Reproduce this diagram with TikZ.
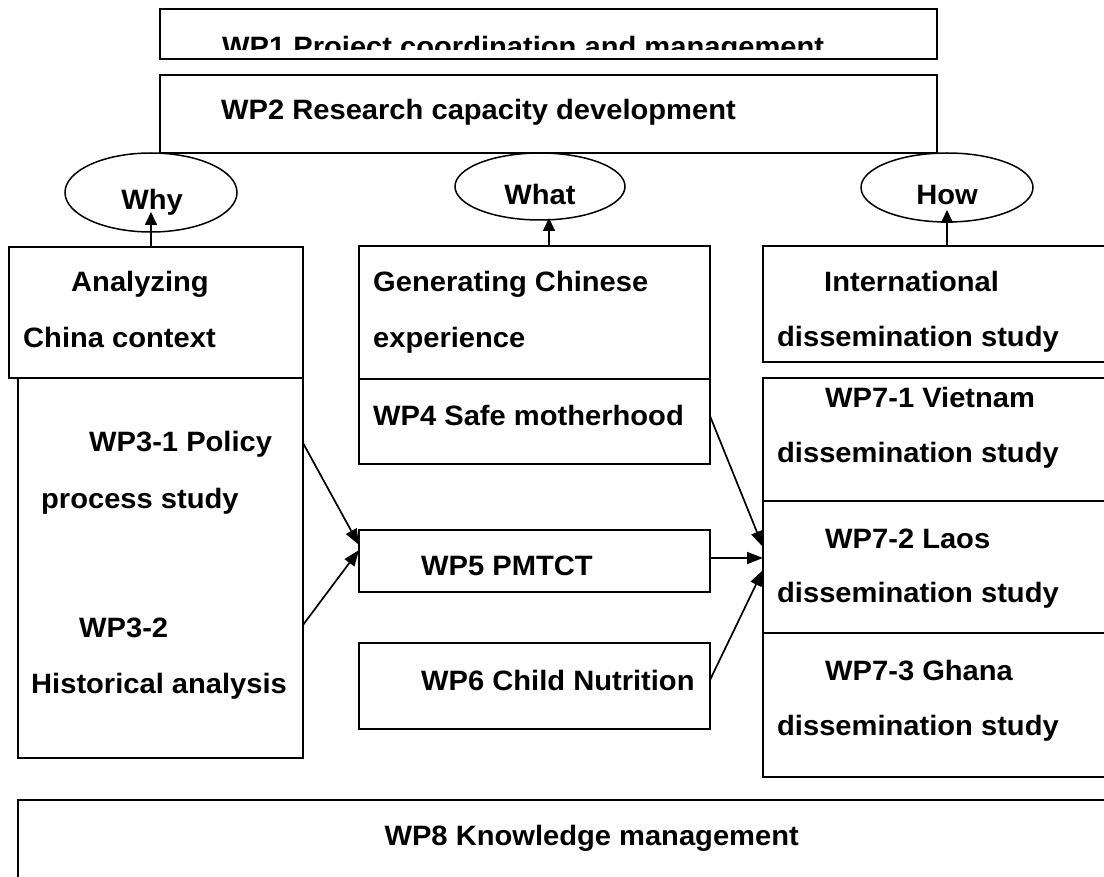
\documentclass[tikz,border=0pt]{standalone}
\usepackage{fontspec}
\newfontfamily\lab{Liberation Sans}[FakeStretch=1.04]
\usetikzlibrary{shapes.geometric,arrows.meta,calc}
\begin{document}
\begin{tikzpicture}[x=1pt,y=-1pt,
  box/.style={draw,line width=1.7pt,rectangle,anchor=north west,inner sep=0pt,outer sep=0pt},
  oval/.style={draw,line width=1.5pt,ellipse,inner sep=0pt,outer sep=0pt},
  txt/.style={anchor=base west,inner sep=0pt,font=\lab\bfseries\fontsize{28}{34}\selectfont},
  ctxt/.style={txt,anchor=base},
  arr/.style={line width=1.7pt,-{Triangle[length=16pt,width=12pt]}},
  uparr/.style={line width=1.7pt,-{Triangle[length=13pt,width=12pt]}}]
\clip (0,0) rectangle (1104,877);
\fill[white] (0,0) rectangle (1104,877);

% top boxes
\node[box,minimum width=777pt,minimum height=50pt] (wp1) at (160,9) {};
\begin{scope}
  \clip (wp1.north west) rectangle ([yshift=9pt]wp1.south east);
  \node[txt] (wp1t) at (222,57) {WP1 Project coordination and management};
\end{scope}
\node[box,minimum width=777pt,minimum height=78pt] (wp2) at (160,75) {};
\node[txt] (wp2t) at (221,120) {WP2 Research capacity development};

% ellipses
\node[oval,minimum width=172pt,minimum height=79pt] (why) at (151,192.5) {};
\node[ctxt] (whyt) at (152,210) {Why};
\node[oval,minimum width=170pt,minimum height=67pt] (what) at (540,186.5) {};
\node[ctxt] (whatt) at (540,205) {What};
\node[oval,minimum width=172pt,minimum height=69pt] (how) at (947,187.5) {};
\node[ctxt] (howt) at (947,205) {How};

% left column
\node[box,minimum width=294pt,minimum height=131pt] (an) at (9,247) {};
\node[txt] at (71,292) {Analyzing};
\node[txt] at (23,348) {China context};
\node[box,minimum width=285pt,minimum height=380pt] (wp3) at (18,378) {};
\node[txt] at (89,452) {WP3-1 Policy};
\node[txt] at (41,508) {process study};
\node[txt] at (79,637) {WP3-2};
\node[txt] at (31,693) {Historical analysis};

% middle column
\node[box,minimum width=351pt,minimum height=133pt] (gen) at (359,246) {};
\node[txt] at (373,292) {Generating Chinese};
\node[txt] at (373,348) {experience};
\node[box,minimum width=351pt,minimum height=85pt] (wp4) at (359,379) {};
\node[txt] at (373,425) {WP4 Safe motherhood};
\node[box,minimum width=351pt,minimum height=62pt] (wp5) at (359,530) {};
\node[txt] at (421,575) {WP5 PMTCT};
\node[box,minimum width=351pt,minimum height=86pt] (wp6) at (359,643) {};
\node[txt] at (421,690) {WP6 Child Nutrition};

% right column
\node[box,minimum width=400pt,minimum height=116pt] (intl) at (763,246) {};
\node[txt] at (824,292) {International};
\node[txt] at (777,347) {dissemination study};
\node[box,minimum width=400pt,minimum height=123pt] (wp71) at (763,378) {};
\node[txt] at (825,408) {WP7-1 Vietnam};
\node[txt] at (777,463) {dissemination study};
\node[box,minimum width=400pt,minimum height=132pt] (wp72) at (763,501) {};
\node[txt] at (825,548) {WP7-2 Laos};
\node[txt] at (777,602) {dissemination study};
\node[box,minimum width=400pt,minimum height=144pt] (wp73) at (763,633) {};
\node[txt] at (825,680) {WP7-3 Ghana};
\node[txt] at (777,735) {dissemination study};

% bottom
\node[box,minimum width=1200pt,minimum height=200pt] (wp8) at (18,800) {};
\node[txt,anchor=base east] (wp8t) at (799,845) {WP8 Knowledge management};

% arrows up
\draw[uparr] (an.north -| why.south) -- ([yshift=20pt]why.south);
\draw[uparr] ([xshift=9pt]what.south |- gen.north) -- ([xshift=9pt,yshift=2pt]what.south);
\draw[uparr] (intl.north -| how.south) -- ([yshift=12pt]how.south);

% arrows into WP5
\draw[arr] ([yshift=-65pt]wp3.north east) -- ([yshift=-15pt]wp5.north west);
\draw[arr] ([yshift=-247pt]wp3.north east) -- ([yshift=-20pt]wp5.north west);

% arrows into WP7
\draw[arr] ([yshift=-37pt]wp4.north east) -- ([yshift=-46pt]wp72.north west);
\draw[arr] ([yshift=-28pt]wp5.north east) -- ([yshift=-57pt]wp72.north west);
\draw[arr] ([yshift=-37pt]wp6.north east) -- ([yshift=-69pt]wp72.north west);
\end{tikzpicture}
\end{document}
